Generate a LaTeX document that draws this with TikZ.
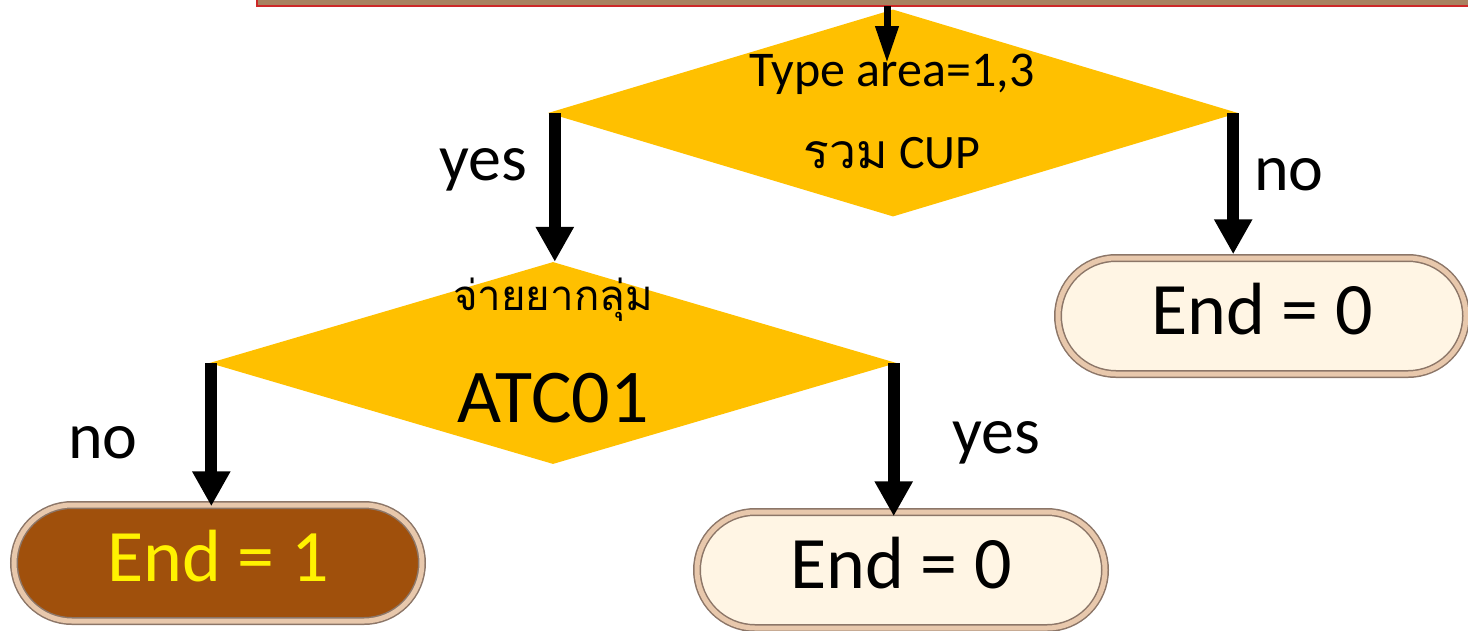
\documentclass[tikz,border=0pt]{standalone}
\usepackage{fontspec}
\setmainfont{Carlito}
\newfontfamily\thaifont[Script=Thai]{Loma}
\usetikzlibrary{shapes.geometric,shapes.misc,arrows.meta}
\definecolor{dgold}{RGB}{255,192,0}
\definecolor{cream}{RGB}{255,245,228}
\definecolor{rust}{RGB}{160,80,12}
\definecolor{tanring}{RGB}{232,200,172}
\definecolor{tanedge}{RGB}{140,118,104}
\definecolor{barfill}{RGB}{168,130,96}
\definecolor{barred}{RGB}{205,40,40}
\tikzset{
  decision/.style={diamond, fill=dgold, inner sep=0pt, aspect=3.3},
  terminal/.style={rounded rectangle, draw=tanedge, line width=1.5pt,
    double=tanring, double distance=5pt, minimum width=408pt, minimum height=116pt,
    inner sep=0pt, text depth=14pt, font=\fontsize{74}{80}\selectfont},
  flow/.style={line width=12pt, -{Triangle[width=36pt,length=35pt]}},
  topflow/.style={line width=7pt, -{Triangle[width=22pt,length=37pt]}},
  lbl/.style={font=\fontsize{66}{70}\selectfont, inner sep=0pt}
}
\begin{document}
\begin{tikzpicture}[x=1pt,y=-1pt]
\useasboundingbox (0,0) rectangle (1468,630);
% top bar (cut off)
\fill[barfill] (257,-5) rectangle (1472,5);
\draw[barred, line width=2pt] (257,-5) -- (257,6) -- (1472,6);
\coordinate (barout) at (887,6);

\node[decision, minimum width=690pt, minimum height=207pt] (d1) at (893,113) {};
\node[font=\fontsize{50}{55}\selectfont, inner sep=0pt] (t1a) at (892,74) {Type area=1,3};
\node[font=\fontsize{48}{55}\selectfont, inner sep=0pt] (t1b) at (892,153) {{\thaifont รวม} CUP};
\coordinate (d1in) at (887,63);

\node[decision, minimum width=687pt, minimum height=202pt] (d2) at (553,363) {};
\node[font=\fontsize{42}{50}\selectfont, inner sep=0pt] (t2a) at (553,300) {\thaifont จ่ายยากลุ่ม};
\node[font=\fontsize{76}{80}\selectfont, inner sep=0pt] (t2b) at (553,398) {ATC01};

\node[terminal, fill=cream] (e0a) at (1262,316) {End = 0};
\node[terminal, fill=rust, text=yellow] (e1) at (218,563) {End = 1};
\node[terminal, fill=cream] (e0b) at (901,570) {End = 0};

\draw[topflow] (barout) -- (d1in);
\draw[flow] ([xshift=7pt]d1.west) -- ([xshift=7pt]d1.west |- d2.north);
\draw[flow] ([xshift=-5pt]d1.east) -- ([xshift=-5pt,yshift=3pt]d1.east |- e0a.north);
\draw[flow] ([xshift=2pt]d2.west) -- ([xshift=2pt,yshift=-2pt]d2.west |- e1.north);
\draw[flow] ([xshift=-3pt]d2.east) -- ([xshift=-3pt,yshift=-5pt]d2.east |- e0b.north);

\node[lbl] (l1) at (483,170) {yes};
\node[lbl] (l2) at (1289,175) {no};
\node[lbl] (l3) at (103,443) {no};
\node[lbl] (l4) at (996,443) {yes};
\end{tikzpicture}
\end{document}
